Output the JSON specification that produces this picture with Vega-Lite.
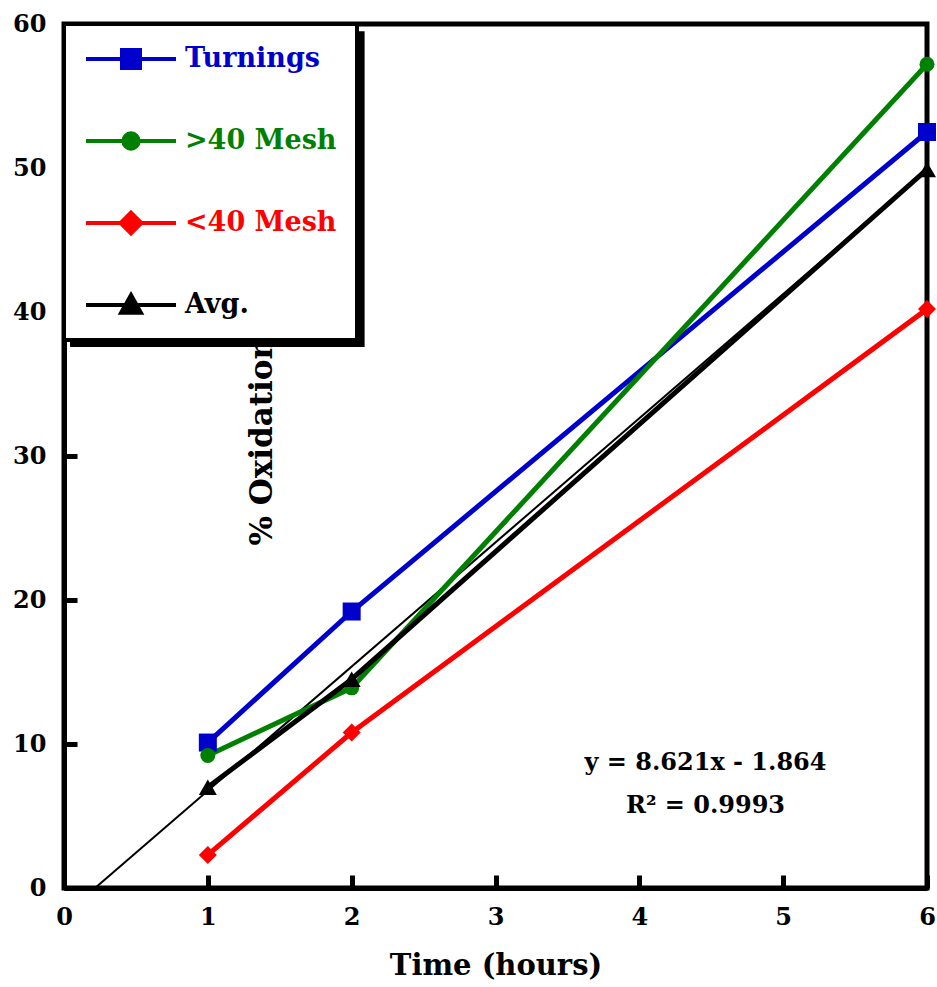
{
  "$schema": "https://vega.github.io/schema/vega-lite/v6.json",
  "width": 863,
  "height": 864,
  "autosize": "none",
  "padding": {"left": 64, "top": 24, "right": 10, "bottom": 99},
  "background": "white",
  "config": {
    "view": {"stroke": "black", "strokeWidth": 5},
    "font": "DejaVu Serif"
  },
  "datasets": {
    "series": [
      {"series": "Turnings", "time": 1, "pct": 10.1},
      {"series": "Turnings", "time": 2, "pct": 19.2},
      {"series": "Turnings", "time": 6, "pct": 52.5},
      {"series": ">40 Mesh", "time": 1, "pct": 9.2},
      {"series": ">40 Mesh", "time": 2, "pct": 13.9},
      {"series": ">40 Mesh", "time": 6, "pct": 57.2},
      {"series": "<40 Mesh", "time": 1, "pct": 2.3},
      {"series": "<40 Mesh", "time": 2, "pct": 10.8},
      {"series": "<40 Mesh", "time": 6, "pct": 40.2},
      {"series": "Avg.", "time": 1, "pct": 7.0},
      {"series": "Avg.", "time": 2, "pct": 14.5},
      {"series": "Avg.", "time": 6, "pct": 49.9}
    ],
    "fit": [
      {"time": 0.2162, "pct": 0},
      {"time": 6, "pct": 49.862}
    ],
    "note": [
      {"line1": "y = 8.621x - 1.864", "line2": "R² = 0.9993"}
    ]
  },
  "layer": [
    {
      "data": {"values": [{}]},
      "mark": {"type": "rect", "color": "black"},
      "encoding": {
        "x": {"datum": 0.042, "type": "quantitative", "scale": {"domain": [0, 6], "nice": false, "zero": true}},
        "x2": {"datum": 2.09},
        "y": {"datum": 59.5, "type": "quantitative", "scale": {"domain": [0, 60], "nice": false}},
        "y2": {"datum": 37.57}
      }
    },
    {
      "data": {"name": "fit"},
      "mark": {"type": "line", "color": "black", "strokeWidth": 2},
      "encoding": {
        "x": {
          "field": "time", "type": "quantitative",
          "axis": {
            "values": [0, 1, 2, 3, 4, 5, 6], "format": "d", "grid": false,
            "title": "Time (hours)", "titleFont": "DejaVu Serif", "titleFontSize": 29, "titleFontWeight": "bold", "titleColor": "black", "titlePadding": 22,
            "labelFont": "DejaVu Serif", "labelFontSize": 24, "labelFontWeight": "bold", "labelColor": "black", "labelFlush": false, "labelPadding": 30,
            "domainColor": "black", "domainWidth": 5, "tickColor": "black", "tickWidth": 5, "tickSize": -13
          }
        },
        "y": {
          "field": "pct", "type": "quantitative",
          "axis": {
            "values": [0, 10, 20, 30, 40, 50, 60], "format": "d", "grid": false,
            "title": "% Oxidation", "titleFont": "DejaVu Serif", "titleFontSize": 31, "titleFontWeight": "bold", "titleColor": "black",
            "titleX": 207, "titleY": 521, "titleAngle": -90, "titleAlign": "left", "titleBaseline": "alphabetic",
            "labelFont": "DejaVu Serif", "labelFontSize": 24, "labelFontWeight": "bold", "labelColor": "black", "labelFlush": false, "labelPadding": 31,
            "domainColor": "black", "domainWidth": 5, "tickColor": "black", "tickWidth": 5, "tickSize": -13
          }
        }
      }
    },
    {
      "data": {"name": "series"},
      "mark": {"type": "line", "strokeWidth": 5},
      "encoding": {
        "x": {"field": "time", "type": "quantitative"},
        "y": {"field": "pct", "type": "quantitative"},
        "color": {
          "field": "series", "type": "nominal",
          "scale": {"domain": ["Turnings", ">40 Mesh", "<40 Mesh", "Avg."], "range": ["#0000CC", "#008000", "#FF0000", "#000000"]},
          "legend": {
            "title": null, "orient": "none", "legendX": 0, "legendY": 0, "direction": "vertical",
            "padding": 20, "rowPadding": 52, "clipHeight": 30,
            "symbolSize": 8100, "symbolStrokeWidth": 4, "labelOffset": 7,
            "labelFont": "DejaVu Serif", "labelFontSize": 27, "labelFontWeight": "bold", "labelLimit": 400,
            "fillColor": "white", "strokeColor": "black",
            "encode": {
              "legend": {"update": {"strokeWidth": {"value": 4}}},
              "symbols": {"update": {
                "shape": {"signal": "datum.value === 'Turnings' ? 'M-1,0H1M-0.2,-0.2H0.2V0.2H-0.2Z' : datum.value === '>40 Mesh' ? 'M-1,0H1M-0.17,0A0.17,0.17,0,1,0,0.17,0A0.17,0.17,0,1,0,-0.17,0Z' : datum.value === '<40 Mesh' ? 'M-1,0H1M0,-0.23L0.23,0L0,0.23L-0.23,0Z' : 'M-1,0H1M0,-0.22L0.22,0.17L-0.22,0.17Z'"},
                "fill": {"scale": "color", "field": "value"},
                "stroke": {"scale": "color", "field": "value"},
                "strokeWidth": {"value": 4},
                "size": {"value": 8100},
                "opacity": {"value": 1}
              }},
              "labels": {"update": {"fill": {"scale": "color", "field": "value"}}}
            }
          }
        }
      }
    },
    {
      "data": {"name": "series"},
      "transform": [{"filter": "datum.series === 'Turnings'"}],
      "mark": {"type": "point", "filled": true, "opacity": 1, "shape": "square", "size": 324, "color": "#0000CC"},
      "encoding": {
        "x": {"field": "time", "type": "quantitative"},
        "y": {"field": "pct", "type": "quantitative"}
      }
    },
    {
      "data": {"name": "series"},
      "transform": [{"filter": "datum.series === '>40 Mesh'"}],
      "mark": {"type": "point", "filled": true, "opacity": 1, "shape": "circle", "size": 225, "color": "#008000"},
      "encoding": {
        "x": {"field": "time", "type": "quantitative"},
        "y": {"field": "pct", "type": "quantitative"}
      }
    },
    {
      "data": {"name": "series"},
      "transform": [{"filter": "datum.series === '<40 Mesh'"}],
      "mark": {"type": "point", "filled": true, "opacity": 1, "shape": "diamond", "size": 324, "color": "#FF0000"},
      "encoding": {
        "x": {"field": "time", "type": "quantitative"},
        "y": {"field": "pct", "type": "quantitative"}
      }
    },
    {
      "data": {"name": "series"},
      "transform": [{"filter": "datum.series === 'Avg.'"}],
      "mark": {"type": "point", "filled": true, "opacity": 1, "shape": "triangle-up", "size": 324, "color": "#000000"},
      "encoding": {
        "x": {"field": "time", "type": "quantitative"},
        "y": {"field": "pct", "type": "quantitative"}
      }
    },
    {
      "data": {"name": "note"},
      "mark": {"type": "text", "font": "DejaVu Serif", "fontSize": 24, "fontWeight": "bold", "color": "black", "align": "center", "baseline": "middle"},
      "encoding": {
        "x": {"datum": 4.46, "type": "quantitative"},
        "y": {"datum": 8.7, "type": "quantitative"},
        "text": {"field": "line1"}
      }
    },
    {
      "data": {"name": "note"},
      "mark": {"type": "text", "font": "DejaVu Serif", "fontSize": 24, "fontWeight": "bold", "color": "black", "align": "center", "baseline": "middle"},
      "encoding": {
        "x": {"datum": 4.46, "type": "quantitative"},
        "y": {"datum": 5.7, "type": "quantitative"},
        "text": {"field": "line2"}
      }
    }
  ]
}
